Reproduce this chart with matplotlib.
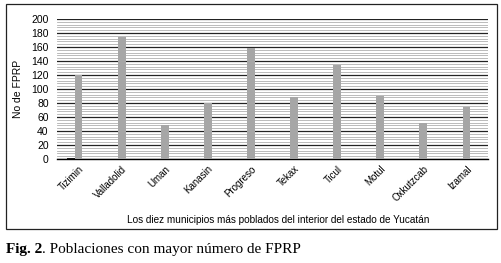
import matplotlib.pyplot as plt
import numpy as np
from matplotlib.patches import Rectangle

plt.rcParams['font.family'] = ['Liberation Sans', 'DejaVu Sans']

municipios = ['Tizimin', 'Valladolid', 'Uman', 'Kanasin', 'Progreso',
              'Tekax', 'Ticul', 'Motul', 'Oxkutzcab', 'Izamal']
serie_oscura = [2, 0, 0, 0, 0, 0, 0, 0, 0, 0]
serie_gris = [120, 174, 49, 80, 158, 88, 134, 90, 52, 75]

fig = plt.figure(figsize=(5.02, 2.63), dpi=100)
ax = fig.add_axes([57/502, 1 - 159/263, 431/502, 140/263])

x = np.arange(len(municipios))
w = 0.18
ax.bar(x - w, serie_oscura, width=w, color='#1a1a1a', zorder=3)
ax.bar(x, serie_gris, width=w, color='#a6a6a6', zorder=3)

ax.set_xlim(-0.5, len(municipios) - 0.5)
ax.set_ylim(0, 200)
ax.set_yticks(np.arange(0, 201, 20))
ax.set_yticks(np.arange(0, 201, 4), minor=True)
ax.yaxis.grid(True, which='minor', color='#b0b0b0', lw=0.6, zorder=0)
ax.yaxis.grid(True, which='major', color='#222222', lw=0.9, zorder=1)
ax.tick_params(axis='y', which='both', length=0, labelsize=7.5, pad=6)
ax.tick_params(axis='x', length=0, labelsize=7)
ax.set_xticks(x)
ax.set_xticklabels(municipios, rotation=45, ha='right', rotation_mode='anchor')
for s in ['top', 'right', 'left']:
    ax.spines[s].set_visible(False)
ax.spines['bottom'].set_linewidth(1.0)
ax.set_ylabel('No de FPRP', fontsize=7.5, labelpad=6)

fig.text(0.554, 1 - 220/263, 'Los diez municipios más poblados del interior del estado de Yucatán',
         ha='center', va='center', fontsize=7.2)

fig.patches.append(Rectangle((6/502, 1 - 229/263), 491/502, 225/263,
                             transform=fig.transFigure, fill=False,
                             edgecolor='#222222', lw=0.9))

t1 = fig.text(6/502, 1 - 250/263, 'Fig. 2', fontsize=11, va='center',
              family='Liberation Serif', fontweight='bold')
fig.canvas.draw()
bb = t1.get_window_extent()
fig.text(bb.x1 / fig.bbox.width, 1 - 250/263,
         '. Poblaciones con mayor número de FPRP', fontsize=11, va='center',
         family='Liberation Serif')

fig.savefig('out.png', dpi=100)
